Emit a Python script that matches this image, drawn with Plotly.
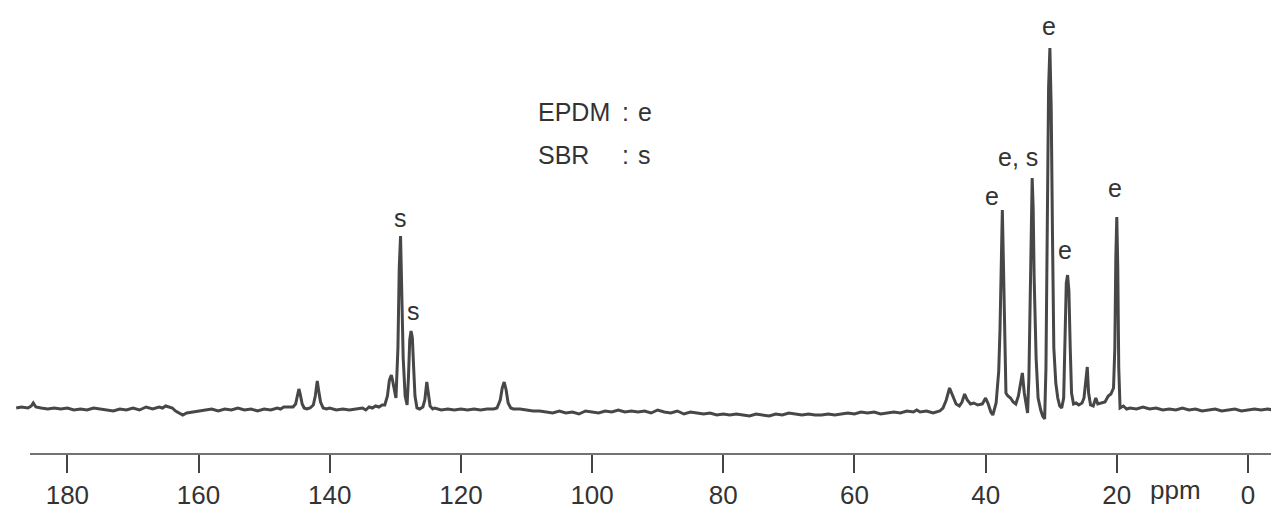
import plotly.graph_objects as go

# Spectrum: chemical shift (ppm) and intensity (a.u.)
ppm = [187.8, 187.0, 186.0, 185.5, 185.2, 184.8, 184.0, 183.0, 182.0, 181.0, 180.0, 179.0, 178.0, 177.0, 176.0,
       175.0, 174.0, 173.0, 172.0, 171.0, 170.0, 169.0, 168.0, 167.0, 166.0, 165.5, 165.0, 164.0, 163.5, 163.0,
       162.4, 161.8, 161.0, 160.0, 159.0, 158.0, 157.0, 156.0, 155.0, 154.0, 153.0, 152.0, 151.0, 150.0, 149.0,
       148.0, 147.5, 147.0, 146.5, 145.6, 145.2, 144.9, 144.7, 144.5, 144.2, 143.9, 143.5, 143.0, 142.5, 142.2,
       141.9, 141.7, 141.4, 141.0, 140.5, 140.0, 139.0, 138.0, 137.0, 136.0, 135.0, 134.5, 134.0, 133.5, 133.0,
       132.5, 132.0, 131.6, 131.2, 130.9, 130.6, 130.4, 130.1, 129.9, 129.6, 129.4, 129.2, 129.0, 128.8, 128.5,
       128.2, 128.0, 127.8, 127.6, 127.4, 127.2, 127.0, 126.7, 126.3, 125.8, 125.5, 125.2, 125.0, 124.7, 124.3,
       124.0, 123.0, 122.0, 121.0, 120.0, 119.0, 118.0, 117.0, 116.0, 115.0, 114.5, 114.0, 113.7, 113.4, 113.1,
       112.8, 112.4, 112.0, 111.0, 110.0, 109.0, 108.0, 107.0, 106.0, 105.0, 104.0, 103.0, 102.0, 101.0, 100.0,
       99.0, 98.0, 97.0, 96.0, 95.0, 94.0, 93.0, 92.0, 91.0, 90.0, 89.0, 88.0, 87.0, 86.0, 85.0,
       84.0, 83.0, 82.0, 81.0, 80.0, 79.0, 78.0, 77.0, 76.0, 75.0, 74.0, 73.0, 72.0, 71.0, 70.0,
       69.0, 68.0, 67.0, 66.0, 65.0, 64.0, 63.0, 62.0, 61.0, 60.0, 59.0, 58.0, 57.0, 56.0, 55.0,
       54.0, 53.0, 52.0, 51.0, 50.5, 50.0, 49.0, 48.0, 47.0, 46.5, 46.0, 45.5, 45.0, 44.5, 44.0,
       43.6, 43.2, 42.8, 42.3, 41.8, 41.2, 40.5, 40.0, 39.6, 39.2, 38.9, 38.4, 38.0, 37.8, 37.6,
       37.45, 37.3, 37.1, 36.9, 36.6, 36.2, 35.8, 35.4, 35.0, 34.6, 34.4, 34.1, 33.8, 33.6, 33.4,
       33.2, 33.0, 32.9, 32.75, 32.6, 32.3, 32.0, 31.6, 31.3, 31.0, 30.8, 30.6, 30.4, 30.2, 30.0,
       29.8, 29.6, 29.3, 29.0, 28.7, 28.4, 28.1, 27.9, 27.7, 27.5, 27.3, 27.1, 26.9, 26.6, 26.2,
       25.8, 25.3, 25.0, 24.7, 24.5, 24.3, 24.0, 23.6, 23.2, 22.9, 22.5, 21.8, 21.3, 20.9, 20.5,
       20.3, 20.15, 20.0, 19.85, 19.7, 19.5, 19.0, 18.5, 18.0, 17.0, 16.0, 15.0, 14.0, 13.0, 12.0,
       11.0, 10.0, 9.0, 8.0, 7.0, 6.0, 5.0, 4.0, 3.0, 2.0, 1.0, 0.0, -1.0, -2.0, -3.0,
       -3.8]

intensity = [0, 1, 0, 2, 5, 1, 0, -1, 0, -1, 0, -2, -1, -2, 0,
             -1, -2, -3, -1, -2, 0, -2, 1, -1, 1, 0, 2, 0, -3, -5,
             -7, -5, -4, -3, -2, -1, -3, -1, -2, 0, -2, -1, -3, -1, -2,
             0, -1, 1, 1, 1, 4, 13, 19, 14, 4, 0, -1, 0, 3, 12,
             27, 18, 6, 0, -1, 0, -2, -1, -2, -1, 0, -2, 1, 0, 2,
             1, 3, 3, 12, 28, 33, 27, 14, 10, 60, 140, 172, 120, 50, 12,
             3, 30, 68, 77, 70, 40, 12, 0, -1, 1, 8, 26, 14, 2, -1,
             0, -2, -1, -2, -1, -2, -1, -2, -1, -1, 0, 8, 20, 26, 18,
             5, 0, -1, -1, -2, -3, -3, -4, -5, -3, -5, -4, -6, -3, -4,
             -5, -3, -4, -2, -4, -3, -4, -3, -5, -2, -4, -5, -3, -6, -4,
             -5, -6, -5, -7, -6, -7, -6, -7, -8, -6, -7, -8, -6, -7, -5,
             -6, -7, -6, -7, -7, -6, -7, -6, -5, -6, -4, -5, -4, -6, -5,
             -4, -5, -3, -4, -2, -4, -3, -5, -3, 0, 8, 20, 12, 4, 2,
             6, 14, 8, 4, 5, 3, 4, 10, 4, -4, -7, 5, 37, 80, 150,
             198, 150, 60, 15, 12, 10, 6, 4, 12, 30, 35, 15, 0, -5, 30,
             130, 215, 230, 200, 130, 50, 10, -2, -8, -11, 40, 180, 320, 360, 300,
             170, 60, 25, 10, 2, 0, 10, 60, 125, 133, 117, 60, 15, 4, 5,
             3, 5, 10, 30, 41, 15, 3, 2, 10, 4, 5, 6, 12, 14, 20,
             60, 150, 191, 140, 40, 0, 2, -1, 0, -1, 1, -1, 0, -2, -1,
             -2, 0, -2, -1, -3, -2, -1, -3, -2, -1, -3, -2, -1, -2, -1,
             -2]

tick_values = [180, 160, 140, 120, 100, 80, 60, 40, 20, 0]
tick_labels = ["180", "160", "140", "120", "100", "80", "60", "40", "20", "0"]
axis_unit = "ppm"

# Peak labels: (ppm, height, text)
label_ppm = [129.2, 127.2, 39.0, 35.06, 30.34, 27.85, 20.3]
label_y = [190, 97, 212, 251, 382, 158, 220]
label_text = ["s", "s", "e", "e, s", "e", "e", "e"]

legend_rows = ["EPDM", "SBR"]
legend_codes = ["e", "s"]

FONT = "Liberation Sans, Arial, sans-serif"
TXT = "#333333"

fig = go.Figure()
fig.add_trace(go.Scatter(x=ppm, y=intensity, mode="lines",
                         line=dict(color="#474747", width=3),
                         hoverinfo="skip", showlegend=False))

ann = []
for xp, yv, t in zip(label_ppm, label_y, label_text):
    ann.append(dict(x=xp, y=yv, xref="x", yref="y", text=t, showarrow=False,
                    font=dict(family=FONT, size=25, color=TXT), xanchor="center", yanchor="middle"))

for i, (name, code) in enumerate(zip(legend_rows, legend_codes)):
    yv = 296 - i * 43
    ann.append(dict(x=108.55, y=yv, xref="x", yref="y", text=name, showarrow=False,
                    font=dict(family=FONT, size=25, color=TXT), xanchor="left", yanchor="middle"))
    ann.append(dict(x=94.98, y=yv, xref="x", yref="y", text=":", showarrow=False,
                    font=dict(family=FONT, size=25, color=TXT), xanchor="center", yanchor="middle"))
    ann.append(dict(x=93.3, y=yv, xref="x", yref="y", text=code, showarrow=False,
                    font=dict(family=FONT, size=25, color=TXT), xanchor="left", yanchor="middle"))

# axis unit label placed beside the tick labels (paper y so it is not hidden outside the range)
ann.append(dict(x=11.05, y=-0.081, xref="x", yref="paper", text=axis_unit, showarrow=False,
                font=dict(family=FONT, size=26, color=TXT), xanchor="center", yanchor="middle"))

fig.update_layout(
    width=1279, height=510,
    margin=dict(l=0, r=0, t=0, b=64),
    paper_bgcolor="white", plot_bgcolor="white",
    font=dict(family=FONT, size=26, color=TXT),
    annotations=ann,
    shapes=[dict(type="line", xref="x", yref="paper", x0=185.7, x1=-3.96, y0=0, y1=0,
                 line=dict(color="#444444", width=1.6))],
    xaxis=dict(range=[189.05, -5.95], tickmode="array", tickvals=tick_values, ticktext=tick_labels,
               ticks="outside", ticklen=18, tickwidth=1.6, tickcolor="#444444",
               showline=False, showgrid=False, zeroline=False,
               tickfont=dict(family=FONT, size=26, color=TXT)),
    yaxis=dict(range=[-46, 400], visible=False, showgrid=False, zeroline=False),
)

fig.write_html("out.html")
